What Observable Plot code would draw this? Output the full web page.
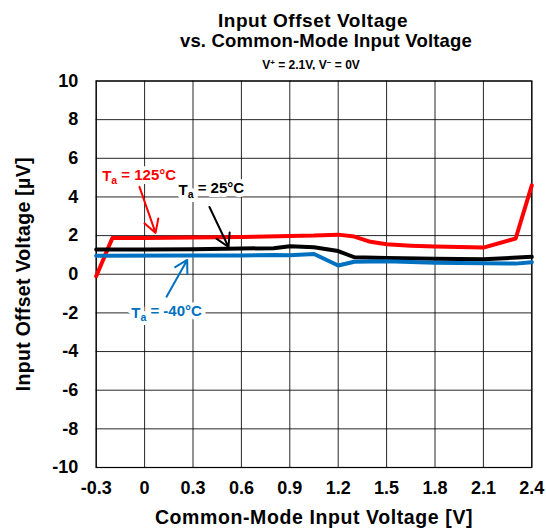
<!DOCTYPE html>
<html>
<head>
<meta charset="utf-8">
<script src="https://cdn.jsdelivr.net/npm/d3@7"></script>
<script src="https://cdn.jsdelivr.net/npm/@observablehq/plot@0.6"></script>
<style>
  body { margin: 0; background: #fff; font-family: "Liberation Sans", Arial, sans-serif; }
  #wrap { position: relative; width: 546px; height: 530px; }
  .t { position: absolute; transform: translateX(-50%); text-align: center; font-weight: bold; color: #000; white-space: nowrap; }
  .t1 { left: 313px; top: 11px; font-size: 19px; line-height: 19px; letter-spacing: 0.55px; }
  .t2 { left: 326px; top: 32px; font-size: 18.5px; line-height: 18.5px; letter-spacing: 0.2px; }
  .t3 { left: 311px; top: 59px; font-size: 12px; line-height: 12px; }
  .t3 sup { font-size: 8px; line-height: 0; vertical-align: 4px; }
  #chart { position: absolute; top: 70px; left: 0; }
</style>
</head>
<body>
<div id="wrap">
  <div class="t t1">Input Offset Voltage</div>
  <div class="t t2">vs. Common-Mode Input Voltage</div>
  <div class="t t3">V<sup>+</sup> = 2.1V, V<sup>−</sup> = 0V</div>
  <div id="chart"></div>
</div>
<script>
// Data
const xTicks = [-0.3, 0, 0.3, 0.6, 0.9, 1.2, 1.5, 1.8, 2.1, 2.4];
const yTicks = [-10, -8, -6, -4, -2, 0, 2, 4, 6, 8, 10];

const x125 = [-0.3, -0.2, 0, 0.3, 0.6, 0.9, 1.05, 1.2, 1.3, 1.4, 1.5, 1.65, 1.8, 2.1, 2.3, 2.4];
const y125 = [-0.1, 1.87, 1.88, 1.9, 1.93, 1.98, 2.0, 2.05, 1.95, 1.68, 1.55, 1.48, 1.43, 1.38, 1.85, 4.6];

const x25 = [-0.3, 0, 0.3, 0.6, 0.8, 0.9, 1.05, 1.2, 1.3, 1.5, 1.8, 2.1, 2.4];
const y25 = [1.28, 1.28, 1.3, 1.33, 1.35, 1.45, 1.4, 1.2, 0.88, 0.84, 0.8, 0.78, 0.9];

const xm40 = [-0.3, 0.3, 0.6, 0.8, 0.9, 1.05, 1.2, 1.3, 1.5, 1.8, 2.1, 2.3, 2.4];
const ym40 = [0.96, 0.97, 0.97, 1.0, 0.98, 1.05, 0.45, 0.65, 0.67, 0.6, 0.57, 0.55, 0.62];

const seriesNames = ["Ta = 125°C", "Ta = 25°C", "Ta = -40°C"];
const seriesColors = ["#ff0000", "#000000", "#0070c0"];

// label anchor points (data units) and arrow ends
const labelX = [-0.263, 0.21, -0.083];
const labelY = [5.08, 4.36, -2.0];
const arrowX1 = [-0.032, 0.402, 0.136];
const arrowY1 = [4.52, 3.48, -1.16];
const arrowX2 = [0.068, 0.52, 0.264];
const arrowY2 = [2.14, 1.41, 0.74];

const toRows = (xs, ys, name) => xs.map((x, i) => ({x, y: ys[i], series: name}));
const rows = [
  ...toRows(x125, y125, seriesNames[0]),
  ...toRows(x25, y25, seriesNames[1]),
  ...toRows(xm40, ym40, seriesNames[2])
];
const ann = seriesNames.map((name, i) => ({
  name, color: seriesColors[i],
  lx: labelX[i], ly: labelY[i],
  x1: arrowX1[i], y1: arrowY1[i], x2: arrowX2[i], y2: arrowY2[i]
}));

const FONT = "Liberation Sans, Arial, sans-serif";
const fmtX = d => d === 0 ? "0" : d.toFixed(1);
const fmtY = d => String(d);

const chart = Plot.plot({
  width: 546,
  height: 460,
  marginTop: 10.5,
  marginBottom: 63,
  marginLeft: 95.7,
  marginRight: 14.7,
  style: {fontFamily: FONT, background: "#fff", color: "#000"},
  x: {domain: [-0.3, 2.4]},
  y: {domain: [-10, 10]},
  color: {domain: seriesNames, range: seriesColors},
  marks: [
    Plot.ruleX(xTicks, {stroke: "#000", strokeWidth: 1, strokeOpacity: 0.85}),
    Plot.ruleY(yTicks, {stroke: "#000", strokeWidth: 1, strokeOpacity: 0.85}),
    Plot.frame({stroke: "#000", strokeWidth: 1.2}),
    Plot.axisX({ticks: xTicks, tickFormat: fmtX, tickSize: 0, tickPadding: 14,
      fontSize: 18, fontWeight: "bold", fontFamily: FONT,
      label: "Common-Mode Input Voltage [V]", labelAnchor: "center", labelArrow: "none", labelOffset: 56}),
    Plot.axisY({ticks: yTicks, tickFormat: fmtY, tickSize: 0, tickPadding: 18,
      fontSize: 18, fontWeight: "bold", fontFamily: FONT,
      label: "Input Offset Voltage [µV]", labelAnchor: "center", labelArrow: "none", labelOffset: 80}),
    Plot.line(rows, {x: "x", y: "y", z: "series", stroke: "series", strokeWidth: 4, strokeLinejoin: "round"}),
    Plot.arrow(ann, {x1: "x1", y1: "y1", x2: "x2", y2: "y2", stroke: d => d.color, strokeWidth: 2, headLength: 11}),
    Plot.text(ann, {x: "lx", y: "ly", text: "name", fill: d => d.color, textAnchor: "start",
      fontSize: 15, fontWeight: "bold", fontFamily: FONT, stroke: "#fff", strokeWidth: 8, paintOrder: "stroke"})
  ]
});

// axis label font styling
d3.select(chart).selectAll("g[aria-label='x-axis label'] text")
  .style("font-size", "19.5px").style("font-weight", "bold").style("letter-spacing", "0.6px").attr("fill", "#000");
d3.select(chart).selectAll("g[aria-label='y-axis label'] text")
  .style("font-size", "19.5px").style("font-weight", "bold").style("letter-spacing", "0.3px").attr("fill", "#000");

// subscript "a" in Ta labels
d3.select(chart).selectAll("text").each(function() {
  const t = d3.select(this);
  const s = this.textContent;
  if (this.childElementCount === 0 && /^Ta = /.test(s)) {
    t.text("");
    t.append("tspan").text("T");
    t.append("tspan").attr("dy", "0.3em").style("font-size", "10.5px").text("a");
    t.append("tspan").attr("dy", "-0.3em").text(s.slice(2));
  }
});

document.getElementById("chart").appendChild(chart);
</script>
</body>
</html>
